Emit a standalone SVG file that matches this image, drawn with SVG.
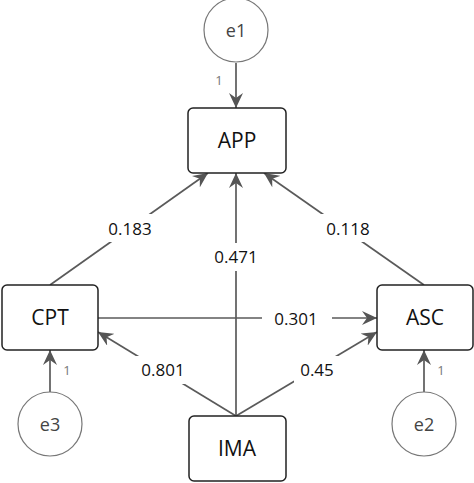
<svg xmlns="http://www.w3.org/2000/svg" width="474" height="483" viewBox="0 0 474 483">
<defs>
<marker id="ah" markerUnits="userSpaceOnUse" markerWidth="16" markerHeight="14" refX="15" refY="7" orient="auto">
<path d="M0,0 L15,7 L0,14 L5,7 z" fill="#555"/>
</marker>
<style>
.box{fill:#fff;stroke:#222;stroke-width:1.5}
.err{fill:#fff;stroke:#777;stroke-width:1.2}
.lbl{font-family:"Open Sans","Noto Sans",sans-serif;font-size:21px;fill:#111;text-anchor:middle;dominant-baseline:central}
.elbl{font-family:"Open Sans","Noto Sans",sans-serif;font-size:18px;fill:#444;text-anchor:middle;dominant-baseline:central}
.num{font-family:"Open Sans","Noto Sans",sans-serif;font-size:17px;fill:#111;text-anchor:middle;dominant-baseline:central}
.one{font-family:"Open Sans","Noto Sans",sans-serif;font-size:13px;fill:#777;text-anchor:middle;dominant-baseline:central}
.ln{stroke:#5a5a5a;stroke-width:1.7;fill:none}
.bg{fill:#fff}
</style>
</defs>
<rect width="474" height="483" fill="#fff"/>
<g id="connectors">
<line class="ln" x1="236" y1="63" x2="236" y2="108" marker-end="url(#ah)"/>
<line class="ln" x1="50" y1="392" x2="50" y2="350" marker-end="url(#ah)"/>
<line class="ln" x1="424" y1="392" x2="424" y2="350" marker-end="url(#ah)"/>
<line class="ln" x1="50" y1="285" x2="208" y2="173" marker-end="url(#ah)"/>
<line class="ln" x1="424" y1="285" x2="264" y2="173" marker-end="url(#ah)"/>
<line class="ln" x1="236" y1="416" x2="236" y2="173" marker-end="url(#ah)"/>
<line class="ln" x1="98" y1="318" x2="377" y2="318" marker-end="url(#ah)"/>
<line class="ln" x1="236" y1="416" x2="98" y2="332" marker-end="url(#ah)"/>
<line class="ln" x1="236" y1="416" x2="377" y2="332" marker-end="url(#ah)"/>
<rect class="bg" x="98" y="214" width="64" height="28"/>
<text class="num" x="130" y="228">0.183</text>
<rect class="bg" x="316" y="214" width="64" height="28"/>
<text class="num" x="348" y="228">0.118</text>
<rect class="bg" x="208" y="243" width="56" height="28"/>
<text class="num" x="236" y="256">0.471</text>
<rect class="bg" x="262" y="305" width="70" height="26"/>
<text class="num" x="296" y="318">0.301</text>
<rect class="bg" x="134" y="356" width="58" height="28"/>
<text class="num" x="163" y="369">0.801</text>
<rect class="bg" x="294" y="356" width="46" height="28"/>
<text class="num" x="317" y="369">0.45</text>
<text class="one" x="219" y="80">1</text>
<text class="one" x="67" y="370">1</text>
<text class="one" x="441" y="370">1</text>
</g>
<g id="e1"><circle class="err" cx="236" cy="30" r="32"/><text class="elbl" x="236" y="30">e1</text></g>
<g id="e3"><circle class="err" cx="50" cy="424" r="32"/><text class="elbl" x="50" y="424">e3</text></g>
<g id="e2"><circle class="err" cx="424" cy="424" r="32"/><text class="elbl" x="424" y="424">e2</text></g>
<g id="APP"><rect class="box" x="188" y="108" width="98" height="65" rx="5"/><text class="lbl" x="237" y="140">APP</text></g>
<g id="CPT"><rect class="box" x="2" y="285" width="96" height="65" rx="5"/><text class="lbl" x="50" y="317">CPT</text></g>
<g id="ASC"><rect class="box" x="377" y="285" width="96" height="65" rx="5"/><text class="lbl" x="425" y="317">ASC</text></g>
<g id="IMA"><rect class="box" x="189" y="416" width="97" height="65" rx="5"/><text class="lbl" x="237" y="448">IMA</text></g>
</svg>
